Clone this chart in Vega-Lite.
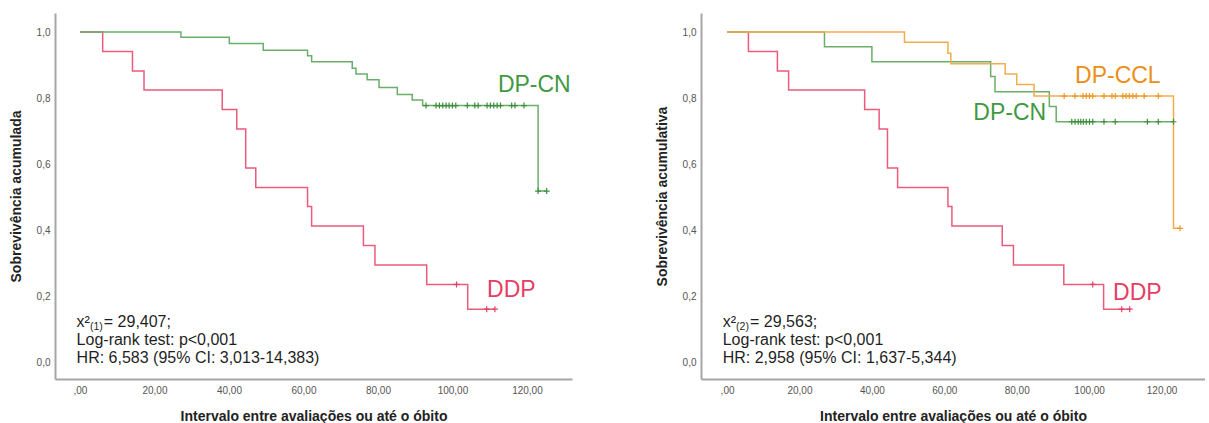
{
  "$schema": "https://vega.github.io/schema/vega-lite/v6.json",
  "padding": {"left": 9, "top": 13, "right": 0, "bottom": 0},
  "autosize": {"type": "pad"},
  "spacing": 83,
  "config": {
    "font": "Liberation Sans",
    "view": {"stroke": null},
    "axis": {
      "domainColor": "#a6a6a6",
      "domainWidth": 2,
      "ticks": false,
      "grid": false,
      "labelColor": "#555555",
      "labelFontSize": 10,
      "titleFontSize": 14,
      "titleFontWeight": "bold",
      "titleColor": "#222222"
    },
    "axisX": {"labelPadding": 6, "titlePadding": 14},
    "axisY": {"labelPadding": 5, "titlePadding": 13}
  },
  "datasets": {
    "km": [
      {"panel": "A", "group": "DDP", "t": 0, "s": 1},
      {"panel": "A", "group": "DDP", "t": 6.1, "s": 0.941},
      {"panel": "A", "group": "DDP", "t": 14.1, "s": 0.882},
      {"panel": "A", "group": "DDP", "t": 17.2, "s": 0.824},
      {"panel": "A", "group": "DDP", "t": 38.2, "s": 0.765},
      {"panel": "A", "group": "DDP", "t": 42.1, "s": 0.706},
      {"panel": "A", "group": "DDP", "t": 44.5, "s": 0.588},
      {"panel": "A", "group": "DDP", "t": 47.2, "s": 0.529},
      {"panel": "A", "group": "DDP", "t": 61.1, "s": 0.471},
      {"panel": "A", "group": "DDP", "t": 62.2, "s": 0.412},
      {"panel": "A", "group": "DDP", "t": 76.1, "s": 0.353},
      {"panel": "A", "group": "DDP", "t": 79.2, "s": 0.294},
      {"panel": "A", "group": "DDP", "t": 93.1, "s": 0.235},
      {"panel": "A", "group": "DDP", "t": 104.1, "s": 0.16},
      {"panel": "A", "group": "DDP", "t": 111.4, "s": 0.16},
      {"panel": "A", "group": "DP-CN", "t": 0, "s": 1},
      {"panel": "A", "group": "DP-CN", "t": 27.1, "s": 0.984},
      {"panel": "A", "group": "DP-CN", "t": 40.1, "s": 0.965},
      {"panel": "A", "group": "DP-CN", "t": 49.2, "s": 0.945},
      {"panel": "A", "group": "DP-CN", "t": 61.1, "s": 0.928},
      {"panel": "A", "group": "DP-CN", "t": 62.2, "s": 0.91},
      {"panel": "A", "group": "DP-CN", "t": 73.1, "s": 0.89},
      {"panel": "A", "group": "DP-CN", "t": 74.1, "s": 0.873},
      {"panel": "A", "group": "DP-CN", "t": 77.1, "s": 0.855},
      {"panel": "A", "group": "DP-CN", "t": 80.3, "s": 0.832},
      {"panel": "A", "group": "DP-CN", "t": 85.2, "s": 0.811},
      {"panel": "A", "group": "DP-CN", "t": 89.2, "s": 0.794},
      {"panel": "A", "group": "DP-CN", "t": 92.0, "s": 0.777},
      {"panel": "A", "group": "DP-CN", "t": 123.0, "s": 0.518},
      {"panel": "A", "group": "DP-CN", "t": 125.3, "s": 0.518},
      {"panel": "B", "group": "DDP", "t": 0, "s": 1},
      {"panel": "B", "group": "DDP", "t": 5.9, "s": 0.941},
      {"panel": "B", "group": "DDP", "t": 13.9, "s": 0.882},
      {"panel": "B", "group": "DDP", "t": 17.0, "s": 0.824},
      {"panel": "B", "group": "DDP", "t": 38.0, "s": 0.765},
      {"panel": "B", "group": "DDP", "t": 42.0, "s": 0.706},
      {"panel": "B", "group": "DDP", "t": 44.3, "s": 0.588},
      {"panel": "B", "group": "DDP", "t": 47.1, "s": 0.529},
      {"panel": "B", "group": "DDP", "t": 61.0, "s": 0.471},
      {"panel": "B", "group": "DDP", "t": 62.1, "s": 0.412},
      {"panel": "B", "group": "DDP", "t": 76.0, "s": 0.353},
      {"panel": "B", "group": "DDP", "t": 79.1, "s": 0.294},
      {"panel": "B", "group": "DDP", "t": 93.0, "s": 0.235},
      {"panel": "B", "group": "DDP", "t": 104.0, "s": 0.16},
      {"panel": "B", "group": "DDP", "t": 111.2, "s": 0.16},
      {"panel": "B", "group": "DP-CN", "t": 0, "s": 1},
      {"panel": "B", "group": "DP-CN", "t": 26.9, "s": 0.955},
      {"panel": "B", "group": "DP-CN", "t": 40.0, "s": 0.91},
      {"panel": "B", "group": "DP-CN", "t": 72.8, "s": 0.865},
      {"panel": "B", "group": "DP-CN", "t": 74.0, "s": 0.819},
      {"panel": "B", "group": "DP-CN", "t": 89.0, "s": 0.774},
      {"panel": "B", "group": "DP-CN", "t": 90.9, "s": 0.728},
      {"panel": "B", "group": "DP-CN", "t": 123.3, "s": 0.728},
      {"panel": "B", "group": "DP-CCL", "t": 0, "s": 1},
      {"panel": "B", "group": "DP-CCL", "t": 49.0, "s": 0.969},
      {"panel": "B", "group": "DP-CCL", "t": 61.0, "s": 0.936},
      {"panel": "B", "group": "DP-CCL", "t": 61.8, "s": 0.904},
      {"panel": "B", "group": "DP-CCL", "t": 76.8, "s": 0.873},
      {"panel": "B", "group": "DP-CCL", "t": 80.0, "s": 0.841},
      {"panel": "B", "group": "DP-CCL", "t": 84.8, "s": 0.806},
      {"panel": "B", "group": "DP-CCL", "t": 123.3, "s": 0.405},
      {"panel": "B", "group": "DP-CCL", "t": 125.1, "s": 0.405}
    ],
    "cens": [
      {"panel": "A", "group": "DDP", "t": 101.1, "s": 0.235},
      {"panel": "A", "group": "DDP", "t": 109.2, "s": 0.16},
      {"panel": "A", "group": "DDP", "t": 111.4, "s": 0.16},
      {"panel": "A", "group": "DP-CN", "t": 92.9, "s": 0.777},
      {"panel": "A", "group": "DP-CN", "t": 95.6, "s": 0.777},
      {"panel": "A", "group": "DP-CN", "t": 96.5, "s": 0.777},
      {"panel": "A", "group": "DP-CN", "t": 97.4, "s": 0.777},
      {"panel": "A", "group": "DP-CN", "t": 98.3, "s": 0.777},
      {"panel": "A", "group": "DP-CN", "t": 99.1, "s": 0.777},
      {"panel": "A", "group": "DP-CN", "t": 100.0, "s": 0.777},
      {"panel": "A", "group": "DP-CN", "t": 100.9, "s": 0.777},
      {"panel": "A", "group": "DP-CN", "t": 104.0, "s": 0.777},
      {"panel": "A", "group": "DP-CN", "t": 106.0, "s": 0.777},
      {"panel": "A", "group": "DP-CN", "t": 106.9, "s": 0.777},
      {"panel": "A", "group": "DP-CN", "t": 109.3, "s": 0.777},
      {"panel": "A", "group": "DP-CN", "t": 110.2, "s": 0.777},
      {"panel": "A", "group": "DP-CN", "t": 111.1, "s": 0.777},
      {"panel": "A", "group": "DP-CN", "t": 112.0, "s": 0.777},
      {"panel": "A", "group": "DP-CN", "t": 112.9, "s": 0.777},
      {"panel": "A", "group": "DP-CN", "t": 115.9, "s": 0.777},
      {"panel": "A", "group": "DP-CN", "t": 116.8, "s": 0.777},
      {"panel": "A", "group": "DP-CN", "t": 119.2, "s": 0.777},
      {"panel": "A", "group": "DP-CN", "t": 123.0, "s": 0.518},
      {"panel": "A", "group": "DP-CN", "t": 125.3, "s": 0.518},
      {"panel": "B", "group": "DDP", "t": 101.0, "s": 0.235},
      {"panel": "B", "group": "DDP", "t": 109.0, "s": 0.16},
      {"panel": "B", "group": "DDP", "t": 111.2, "s": 0.16},
      {"panel": "B", "group": "DP-CN", "t": 95.2, "s": 0.728},
      {"panel": "B", "group": "DP-CN", "t": 96.1, "s": 0.728},
      {"panel": "B", "group": "DP-CN", "t": 97.0, "s": 0.728},
      {"panel": "B", "group": "DP-CN", "t": 97.7, "s": 0.728},
      {"panel": "B", "group": "DP-CN", "t": 98.4, "s": 0.728},
      {"panel": "B", "group": "DP-CN", "t": 99.2, "s": 0.728},
      {"panel": "B", "group": "DP-CN", "t": 100.1, "s": 0.728},
      {"panel": "B", "group": "DP-CN", "t": 101.0, "s": 0.728},
      {"panel": "B", "group": "DP-CN", "t": 104.1, "s": 0.728},
      {"panel": "B", "group": "DP-CN", "t": 107.2, "s": 0.728},
      {"panel": "B", "group": "DP-CN", "t": 116.1, "s": 0.728},
      {"panel": "B", "group": "DP-CN", "t": 119.1, "s": 0.728},
      {"panel": "B", "group": "DP-CN", "t": 123.3, "s": 0.728},
      {"panel": "B", "group": "DP-CCL", "t": 93.1, "s": 0.806},
      {"panel": "B", "group": "DP-CCL", "t": 96.1, "s": 0.806},
      {"panel": "B", "group": "DP-CCL", "t": 98.3, "s": 0.806},
      {"panel": "B", "group": "DP-CCL", "t": 99.2, "s": 0.806},
      {"panel": "B", "group": "DP-CCL", "t": 100.1, "s": 0.806},
      {"panel": "B", "group": "DP-CCL", "t": 101.0, "s": 0.806},
      {"panel": "B", "group": "DP-CCL", "t": 104.1, "s": 0.806},
      {"panel": "B", "group": "DP-CCL", "t": 106.3, "s": 0.806},
      {"panel": "B", "group": "DP-CCL", "t": 107.2, "s": 0.806},
      {"panel": "B", "group": "DP-CCL", "t": 109.3, "s": 0.806},
      {"panel": "B", "group": "DP-CCL", "t": 110.2, "s": 0.806},
      {"panel": "B", "group": "DP-CCL", "t": 111.1, "s": 0.806},
      {"panel": "B", "group": "DP-CCL", "t": 112.1, "s": 0.806},
      {"panel": "B", "group": "DP-CCL", "t": 113.0, "s": 0.806},
      {"panel": "B", "group": "DP-CCL", "t": 115.2, "s": 0.806},
      {"panel": "B", "group": "DP-CCL", "t": 119.1, "s": 0.806},
      {"panel": "B", "group": "DP-CCL", "t": 125.1, "s": 0.405}
    ],
    "labels": [
      {"panel": "A", "group": "DP-CN", "t": 112.2, "s": 0.818, "text": "DP-CN"},
      {"panel": "A", "group": "DDP", "t": 109.3, "s": 0.197, "text": "DDP"},
      {"panel": "B", "group": "DP-CCL", "t": 96.1, "s": 0.845, "text": "DP-CCL"},
      {"panel": "B", "group": "DP-CN", "t": 68.0, "s": 0.733, "text": "DP-CN"},
      {"panel": "B", "group": "DDP", "t": 106.6, "s": 0.188, "text": "DDP"}
    ],
    "stats": [
      {"panel": "A", "t": -0.9, "s": 0.106, "text": "x²"},
      {"panel": "A", "t": 6.4, "s": 0.106, "text": "= 29,407;"},
      {"panel": "A", "t": -0.9, "s": 0.0515, "text": "Log-rank test: p<0,001"},
      {"panel": "A", "t": -0.9, "s": -0.004, "text": "HR: 6,583 (95% CI: 3,013-14,383)"},
      {"panel": "B", "t": -1.2, "s": 0.106, "text": "x²"},
      {"panel": "B", "t": 6.35, "s": 0.106, "text": "= 29,563;"},
      {"panel": "B", "t": -1.2, "s": 0.0515, "text": "Log-rank test: p<0,001"},
      {"panel": "B", "t": -1.2, "s": -0.004, "text": "HR: 2,958 (95% CI: 1,637-5,344)"}
    ],
    "subs": [
      {"panel": "A", "t": 2.7, "s": 0.097, "text": "(1)"},
      {"panel": "B", "t": 2.5, "s": 0.097, "text": "(2)"}
    ]
  },
  "hconcat": [
    {
      "width": 517,
      "height": 366,
      "encoding": {
        "x": {"field": "t", "type": "quantitative",
          "scale": {"domain": [-6.7, 132.1], "nice": false, "zero": false},
          "axis": {"title": "Intervalo entre avaliações ou até o óbito", "values": [0, 20, 40, 60, 80, 100, 120],
            "labelExpr": "datum.value == 0 ? ',00' : replace(format(datum.value, '.2f'), '.', ',')"}},
        "y": {"field": "s", "type": "quantitative",
          "scale": {"domain": [-0.0515, 1.0576], "nice": false, "zero": false},
          "axis": {"title": "Sobrevivência acumulada", "values": [0, 0.2, 0.4, 0.6, 0.8, 1],
            "labelExpr": "replace(format(datum.value, '.1f'), '.', ',')"}}
      },
      "layer": [
        {
          "data": {"name": "km"},
          "transform": [{"filter": "datum.panel == 'A'"}],
          "mark": {"type": "line", "interpolate": "step-after", "strokeWidth": 1.5},
          "encoding": {"stroke": {"field": "group", "type": "nominal",
            "scale": {"domain": ["DDP", "DP-CN", "DP-CCL"], "range": ["#ec5b7c", "#6aae6a", "#f2ad4c"]}, "legend": null}}
        },
        {
          "data": {"name": "cens"},
          "transform": [{"filter": "datum.panel == 'A'"}],
          "mark": {"type": "point", "shape": "M0,-1L0,1M-1,0L1,0", "filled": false, "size": 36, "strokeWidth": 1.2, "opacity": 1},
          "encoding": {"color": {"field": "group", "type": "nominal",
            "scale": {"domain": ["DDP", "DP-CN", "DP-CCL"], "range": ["#e0406a", "#3d8f3d", "#ee9a2a"]}, "legend": null}}
        },
        {
          "data": {"name": "labels"},
          "transform": [{"filter": "datum.panel == 'A'"}],
          "mark": {"type": "text", "align": "left", "baseline": "alphabetic", "fontSize": 23},
          "encoding": {"text": {"field": "text"}, "fill": {"field": "group", "type": "nominal",
            "scale": {"domain": ["DDP", "DP-CN", "DP-CCL"], "range": ["#e63e66", "#3f9a3f", "#ec8f17"]}, "legend": null}}
        },
        {
          "data": {"name": "stats"},
          "transform": [{"filter": "datum.panel == 'A'"}],
          "mark": {"type": "text", "align": "left", "baseline": "alphabetic", "fontSize": 16, "color": "#1f1f1f"},
          "encoding": {"text": {"field": "text"}}
        },
        {
          "data": {"name": "subs"},
          "transform": [{"filter": "datum.panel == 'A'"}],
          "mark": {"type": "text", "align": "left", "baseline": "alphabetic", "fontSize": 10.5, "color": "#1f1f1f"},
          "encoding": {"text": {"field": "text"}}
        }
      ]
    },
    {
      "width": 504,
      "height": 366,
      "encoding": {
        "x": {"field": "t", "type": "quantitative",
          "scale": {"domain": [-7.2, 132.0], "nice": false, "zero": false},
          "axis": {"title": "Intervalo entre avaliações ou até o óbito", "values": [0, 20, 40, 60, 80, 100, 120],
            "labelExpr": "datum.value == 0 ? ',00' : replace(format(datum.value, '.2f'), '.', ',')"}},
        "y": {"field": "s", "type": "quantitative",
          "scale": {"domain": [-0.0515, 1.0576], "nice": false, "zero": false},
          "axis": {"title": "Sobrevivência acumulativa", "values": [0, 0.2, 0.4, 0.6, 0.8, 1],
            "labelExpr": "replace(format(datum.value, '.1f'), '.', ',')"}}
      },
      "layer": [
        {
          "data": {"name": "km"},
          "transform": [{"filter": "datum.panel == 'B'"}],
          "mark": {"type": "line", "interpolate": "step-after", "strokeWidth": 1.5},
          "encoding": {"stroke": {"field": "group", "type": "nominal",
            "scale": {"domain": ["DDP", "DP-CN", "DP-CCL"], "range": ["#ec5b7c", "#6aae6a", "#f2ad4c"]}, "legend": null}}
        },
        {
          "data": {"name": "cens"},
          "transform": [{"filter": "datum.panel == 'B'"}],
          "mark": {"type": "point", "shape": "M0,-1L0,1M-1,0L1,0", "filled": false, "size": 36, "strokeWidth": 1.2, "opacity": 1},
          "encoding": {"color": {"field": "group", "type": "nominal",
            "scale": {"domain": ["DDP", "DP-CN", "DP-CCL"], "range": ["#e0406a", "#3d8f3d", "#ee9a2a"]}, "legend": null}}
        },
        {
          "data": {"name": "labels"},
          "transform": [{"filter": "datum.panel == 'B'"}],
          "mark": {"type": "text", "align": "left", "baseline": "alphabetic", "fontSize": 23},
          "encoding": {"text": {"field": "text"}, "fill": {"field": "group", "type": "nominal",
            "scale": {"domain": ["DDP", "DP-CN", "DP-CCL"], "range": ["#e63e66", "#3f9a3f", "#ec8f17"]}, "legend": null}}
        },
        {
          "data": {"name": "stats"},
          "transform": [{"filter": "datum.panel == 'B'"}],
          "mark": {"type": "text", "align": "left", "baseline": "alphabetic", "fontSize": 16, "color": "#1f1f1f"},
          "encoding": {"text": {"field": "text"}}
        },
        {
          "data": {"name": "subs"},
          "transform": [{"filter": "datum.panel == 'B'"}],
          "mark": {"type": "text", "align": "left", "baseline": "alphabetic", "fontSize": 10.5, "color": "#1f1f1f"},
          "encoding": {"text": {"field": "text"}}
        }
      ]
    }
  ]
}
